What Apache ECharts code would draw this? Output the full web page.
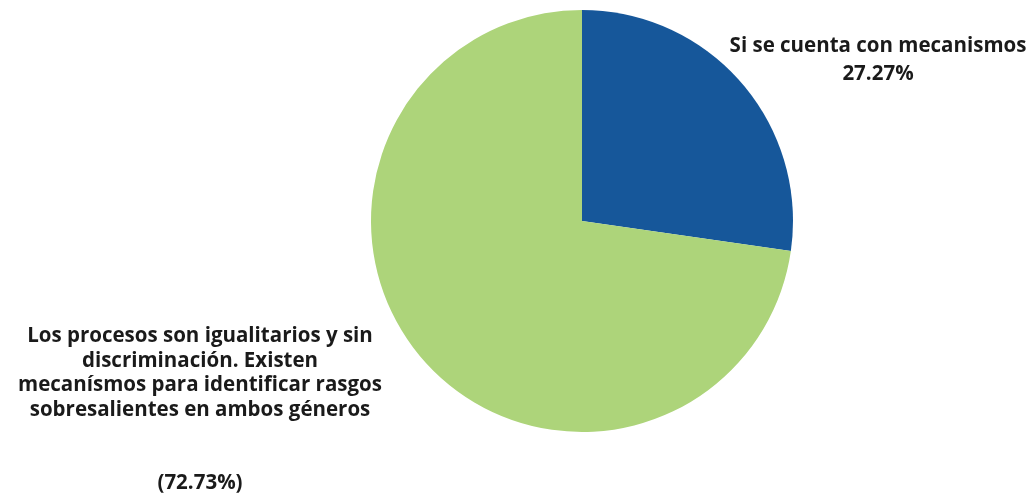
<!DOCTYPE html>
<html lang="es">
<head>
    <meta charset="utf-8">
    <title>Mecanismos</title>
    <script src="https://cdn.jsdelivr.net/npm/echarts@6/dist/echarts.min.js"></script>
    <style>
        html, body { margin: 0; padding: 0; background: #fff; }
        #chart { width: 1032px; height: 493px; }
    </style>
</head>
<body>
<div id="chart"></div>
<script type="text/javascript">
    // datos
    var categorias = [
        'Si se cuenta con mecanismos',
        'Los procesos son igualitarios y sin\ndiscriminación. Existen\nmecanísmos para identificar rasgos\nsobresalientes en ambos géneros'
    ];
    var valores = [27.27, 72.73];
    var colores = ['#16579a', '#add47a'];

    var labelPos = [
        { x: 878, y: 32, lh: 28 },
        { x: 200, y: 324, lh: 24.5 }
    ];

    var myChart = echarts.init(document.getElementById('chart'), null, { renderer: 'canvas' });
    var option = {
        animation: false,
        series: [{
            type: 'pie',
            center: [582, 221],
            radius: 211,
            startAngle: 90,
            clockwise: true,
            silent: true,
            data: categorias.map(function (c, i) {
                return {
                    name: c,
                    value: valores[i],
                    itemStyle: { color: colores[i] },
                    label: { lineHeight: labelPos[i].lh }
                };
            }),
            label: {
                show: true,
                position: 'outside',
                color: '#1a1a1a',
                fontFamily: 'Open Sans',
                fontWeight: 'bold',
                fontSize: 20.5,
                lineHeight: 25,
                align: 'center',
                overflow: 'none',
                formatter: function (p) {
                    if (p.dataIndex === 0) {
                        return p.name + '\n' + p.value.toFixed(2) + '%';
                    }
                    return p.name + '\n\n\n(' + p.value.toFixed(2) + '%)';
                }
            },
            labelLine: { show: false },
            labelLayout: function (params) {
                var pos = labelPos[params.dataIndex];
                return {
                    x: pos.x,
                    y: pos.y,
                    align: 'center',
                    verticalAlign: 'top'
                };
            }
        }]
    };
    myChart.setOption(option);
</script>
</body>
</html>
